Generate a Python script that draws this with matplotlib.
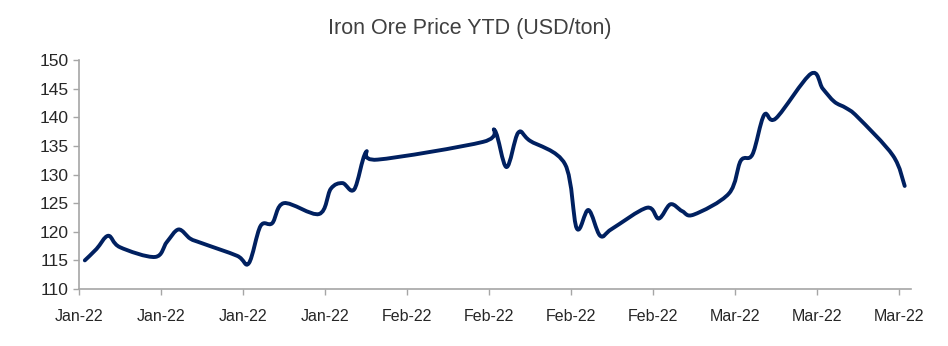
import numpy as np
import matplotlib
matplotlib.use("Agg")
import matplotlib.pyplot as plt
import matplotlib.dates as mdates
from matplotlib.path import Path
from matplotlib.patches import PathPatch
import pandas as pd

plt.rcParams['font.family'] = ['Liberation Sans', 'DejaVu Sans']

# daily prices (trading days)
dates = pd.to_datetime([
    '2022-01-04', '2022-01-05', '2022-01-06', '2022-01-07',
    '2022-01-10', '2022-01-11', '2022-01-12', '2022-01-13', '2022-01-14',
    '2022-01-17', '2022-01-18', '2022-01-19', '2022-01-20', '2022-01-21',
    '2022-01-24', '2022-01-25', '2022-01-26', '2022-01-27', '2022-01-28',
    '2022-01-29',
    '2022-02-07', '2022-02-08', '2022-02-09', '2022-02-10', '2022-02-11',
    '2022-02-14', '2022-02-15', '2022-02-16', '2022-02-17', '2022-02-18',
    '2022-02-21', '2022-02-22', '2022-02-23', '2022-02-24', '2022-02-25',
    '2022-02-28', '2022-03-01', '2022-03-02', '2022-03-03', '2022-03-04',
    '2022-03-07', '2022-03-08', '2022-03-09', '2022-03-10', '2022-03-11',
    '2022-03-14', '2022-03-15',
])
prices = [
    115.0, 117.0, 119.3, 117.3,
    115.6, 118.2, 120.4, 118.8, 118.0,
    115.8, 114.5, 121.0, 121.5, 125.0,
    123.1, 127.5, 128.5, 127.4, 133.9,
    132.6,
    135.7, 137.7, 131.3, 137.3, 135.9,
    131.8, 120.6, 123.8, 119.3, 120.5,
    124.2, 122.3, 124.8, 123.6, 123.0,
    126.7, 132.4, 133.5, 140.4, 139.8,
    147.6, 145.0, 142.7, 141.6, 140.0,
    133.3, 128.0,
]

tick_dates = pd.date_range('2022-01-04', periods=11, freq='7D')
y_ticks = [110, 115, 120, 125, 130, 135, 140, 145, 150]


def smooth_path(x, y):
    # Excel-style smoothed line: cubic bezier through every point
    p = np.column_stack([x, y])
    n = len(p)
    verts = [tuple(p[0])]
    codes = [Path.MOVETO]
    for i in range(n - 1):
        p0 = p[i - 1] if i > 0 else p[i]
        p1 = p[i]
        p2 = p[i + 1]
        p3 = p[i + 2] if i + 2 < n else p[i + 1]
        c1 = p1 + (p2 - p0) / 6.0
        c2 = p2 - (p3 - p1) / 6.0
        verts += [tuple(c1), tuple(c2), tuple(p2)]
        codes += [Path.CURVE4] * 3
    return Path(verts, codes)


fig = plt.figure(figsize=(9.48, 3.46), dpi=100)
ax = fig.add_axes([0.0833, 0.1647, 0.8772, 0.6619])

# points sit in the middle of each day, like an Excel date axis
xs = mdates.date2num(dates) + 0.5
line = PathPatch(smooth_path(xs, prices), fill=False, edgecolor='#002060',
                 linewidth=2.8, capstyle='round', joinstyle='round')
ax.add_patch(line)

ax.set_xlim(mdates.date2num(pd.Timestamp('2022-01-04')),
            mdates.date2num(pd.Timestamp('2022-03-16')))
ax.set_ylim(110, 150)
ax.set_xticks(mdates.date2num(tick_dates))
ax.set_xticklabels([d.strftime('%b-%y') for d in tick_dates])
ax.set_yticks(y_ticks)

for s in ['top', 'right']:
    ax.spines[s].set_visible(False)
for s in ['left', 'bottom']:
    ax.spines[s].set_color('#a6a6a6')
    ax.spines[s].set_linewidth(1.2)

ax.tick_params(axis='both', direction='out', length=4.5, width=1.0,
               color='#a6a6a6', labelcolor='#262626')
ax.tick_params(axis='x', labelsize=11.5, pad=10)
ax.tick_params(axis='y', labelsize=12.5, pad=3)

fig.text(0.496, 0.918, 'Iron Ore Price YTD (USD/ton)', ha='center', va='center',
         fontsize=15.5, color='#404040')

fig.savefig('out.png', dpi=100)
